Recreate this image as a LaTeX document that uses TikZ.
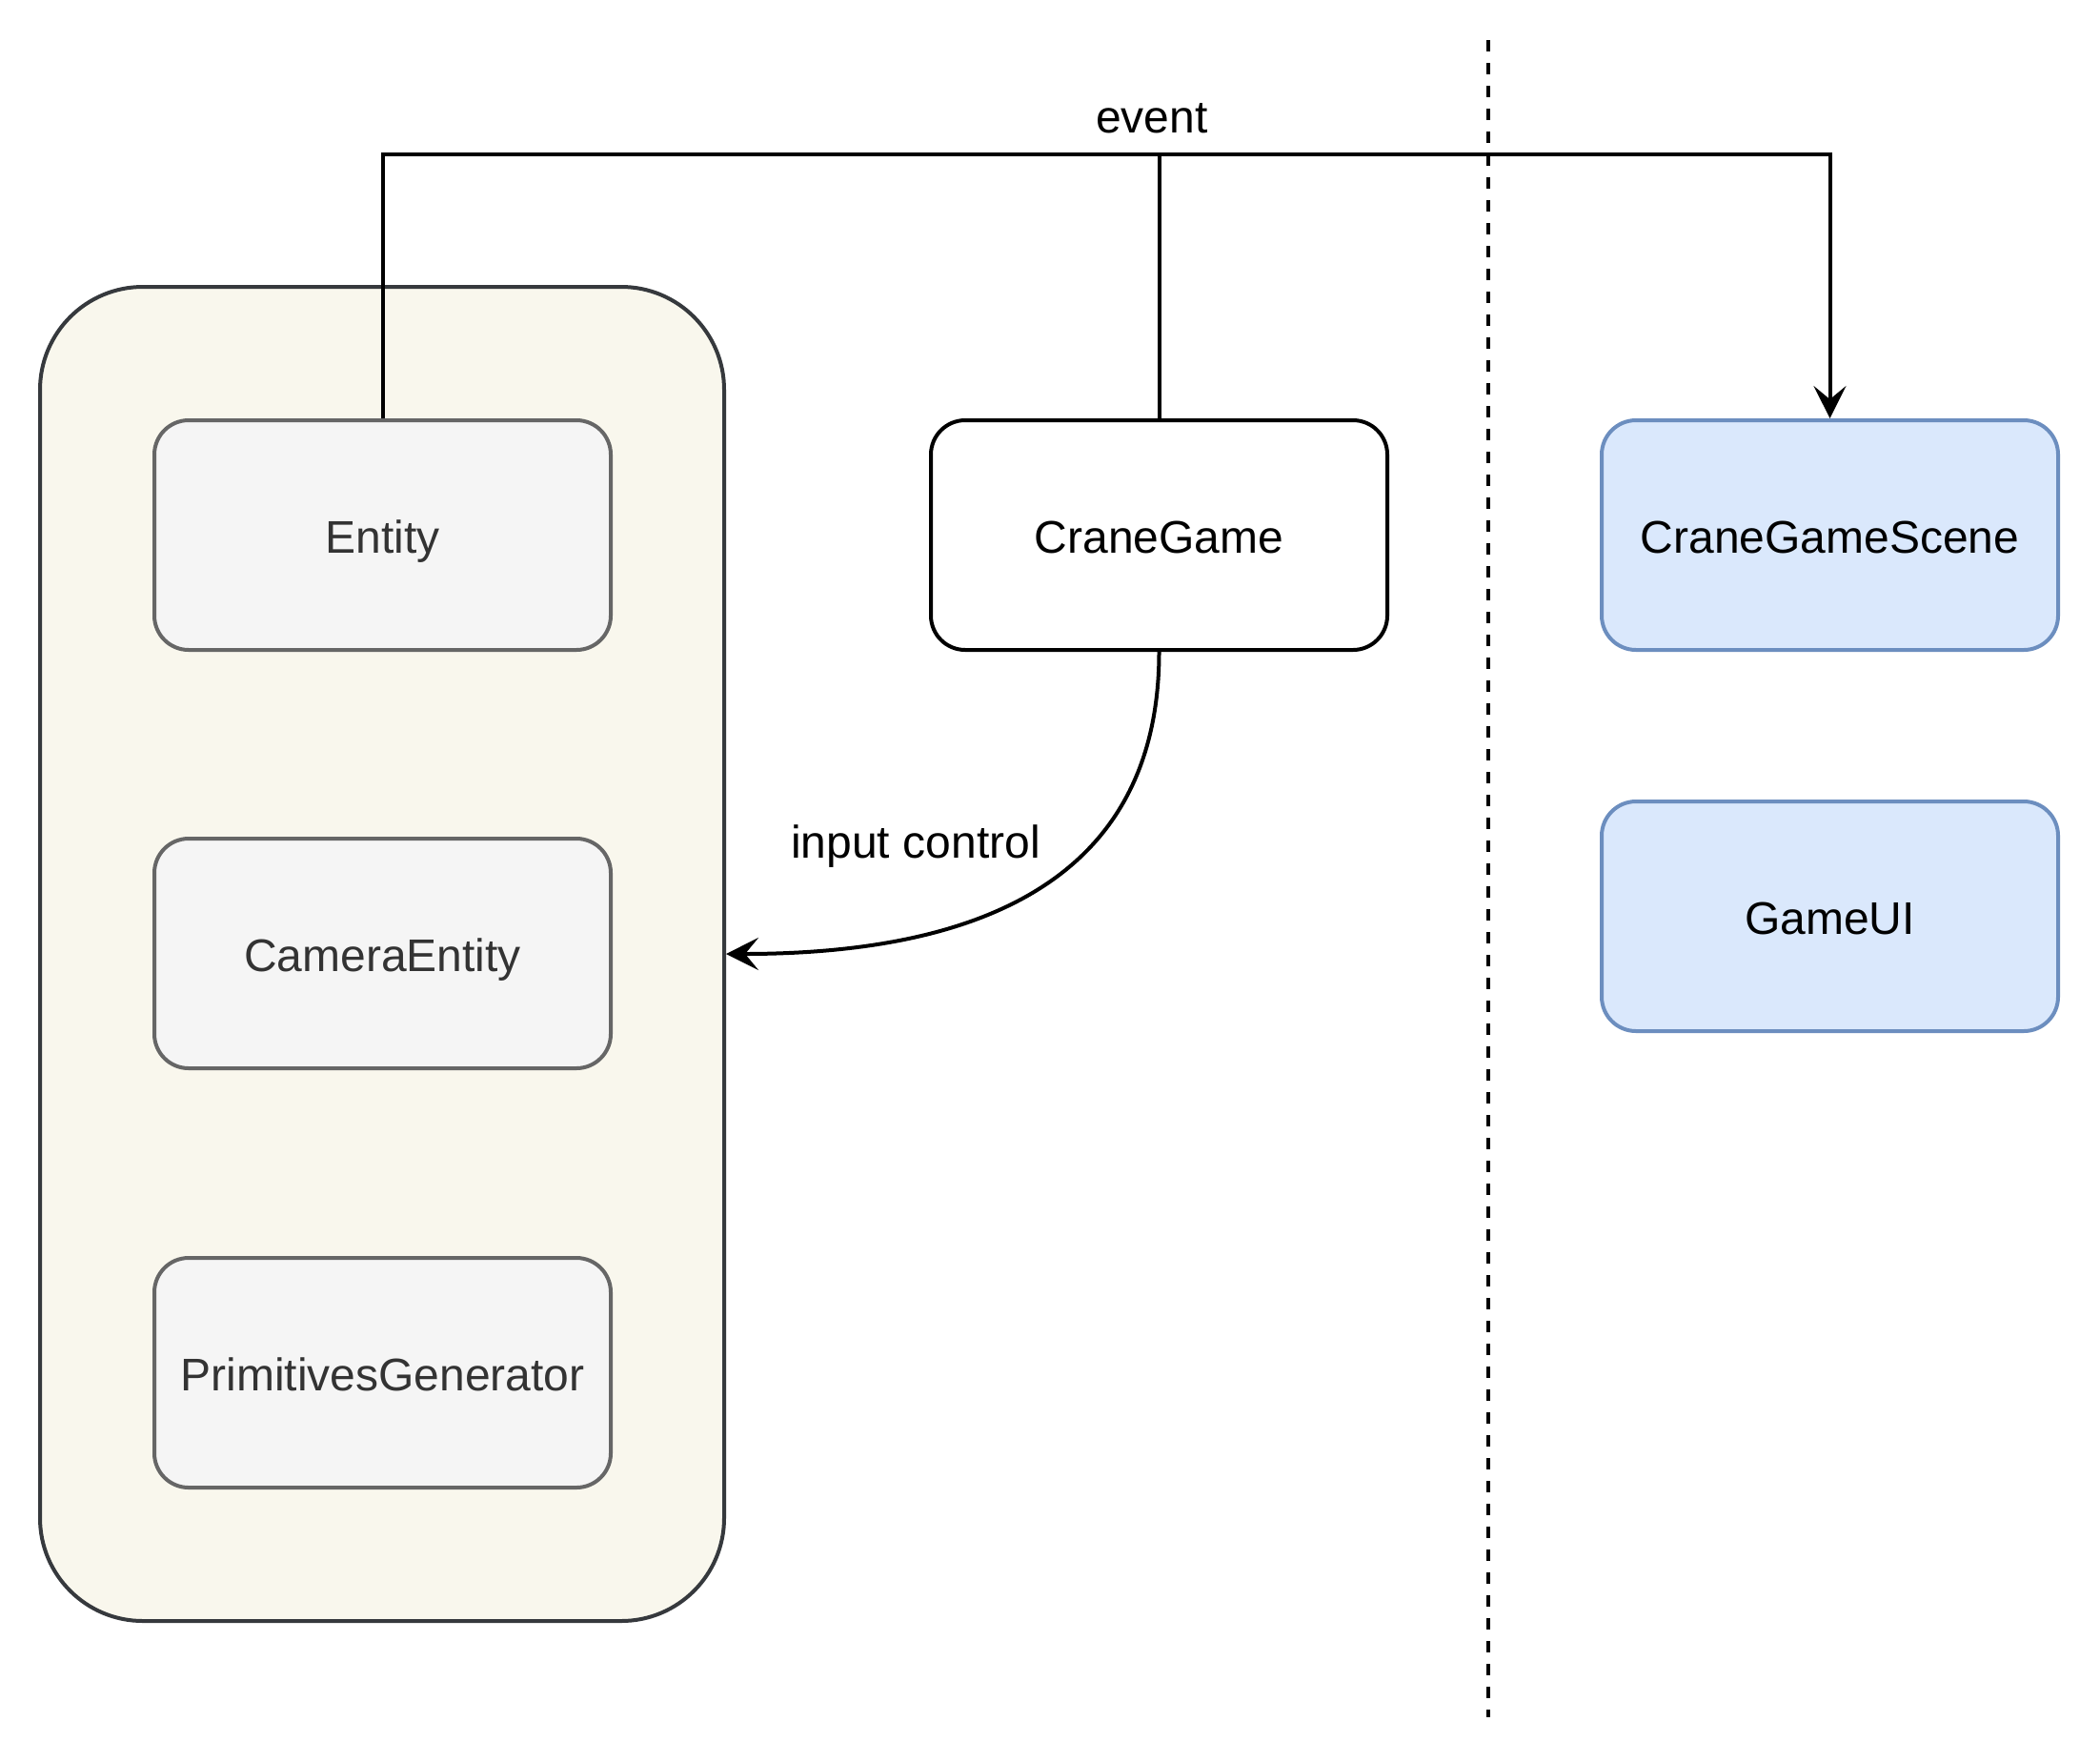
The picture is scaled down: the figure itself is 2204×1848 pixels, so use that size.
\documentclass[tikz,border=0pt]{standalone}
\usepackage{fontspec}
\setmainfont{Liberation Sans}
\usetikzlibrary{arrows.meta}
\definecolor{contfill}{HTML}{F9F7ED}
\definecolor{contdraw}{HTML}{36393D}
\definecolor{grayfill}{HTML}{F5F5F5}
\definecolor{graydraw}{HTML}{666666}
\definecolor{graytext}{HTML}{333333}
\definecolor{bluefill}{HTML}{DAE8FC}
\definecolor{bluedraw}{HTML}{6C8EBF}
\tikzset{
  base/.style={rectangle, rounded corners=18pt, minimum width=239.5pt, minimum height=120.5pt,
    line width=2pt, font=\fontsize{24pt}{28pt}\selectfont, inner sep=0pt,
    text height=18.6pt, text depth=0pt},
  graybox/.style={base, draw=graydraw, fill=grayfill, text=graytext},
  whitebox/.style={base, draw=black, fill=white},
  bluebox/.style={base, draw=bluedraw, fill=bluefill, text=black},
  container/.style={rectangle, rounded corners=54pt, minimum width=359pt, minimum height=700pt,
    draw=contdraw, fill=contfill, line width=2pt},
  conn/.style={draw=black, line width=2pt},
  arr/.style={-{Stealth[length=17pt, width=17pt, inset=7pt]}},
  lbl/.style={font=\fontsize{24pt}{28pt}\selectfont, inner sep=0pt}
}
\begin{document}
\begin{tikzpicture}[x=0.5pt, y=-0.5pt]
\fill[white] (0,0) rectangle (2204,1848);
\useasboundingbox (0,0) rectangle (2204,1848);
% container
\node[container] (box) at (401,1001) {};
% nodes
\node[graybox] (entity) at (401.5,561.5) {Entity};
\node[graybox] (camera) at (401.5,1000.5) {CameraEntity};
\node[graybox] (prim) at (401.5,1440.5) {PrimitivesGenerator};
\node[whitebox] (crane) at (1216.5,561.5) {CraneGame};
\node[bluebox] (scene) at (1920.5,561.5) {CraneGameScene};
\node[bluebox] (gameui) at (1920.5,961.5) {GameUI};
% dashed separator
\coordinate (sepTop) at (1561.5,42);
\coordinate (sepBot) at (1561.5,1802);
\draw[line width=2pt, dash pattern=on 6pt off 6pt] (sepTop) -- (sepBot);
% event connector
\coordinate (evL) at (401.5,161.5);
\coordinate (evM) at (1216.5,161.5);
\coordinate (evR) at (1920.5,161.5);
\draw[conn, arr] (entity.north) -- (evL) -- (evR) -- (scene.north);
\draw[conn] (crane.north) -- (evM);
\node[lbl] (evlabel) at (1209,124) {event};
% input control
\draw[conn, arr] (crane.south) .. controls +(0,213) and +(305,0) .. (box.east);
\node[lbl, text depth=0pt] (inlabel) at (961,883) {input control};
\end{tikzpicture}
\end{document}
